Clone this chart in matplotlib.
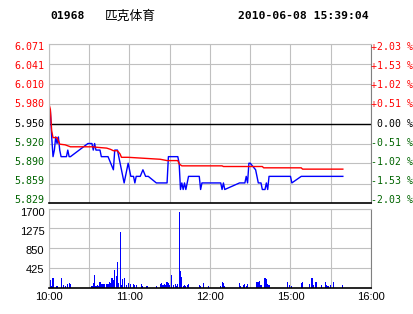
import matplotlib
matplotlib.use("Agg")
import matplotlib.pyplot as plt

plt.rcParams['font.family'] = ['DejaVu Sans', 'Noto Sans CJK SC']

# header
code = "01968"
name = "匹克体育"
stamp = "2010-06-08 15:39:04"
prev_close = 5.95

# axes labels
price_ticks = [5.829, 5.859, 5.890, 5.920, 5.950, 5.980, 6.010, 6.041, 6.071]
pct_labels = ["-2.03 %", "-1.53 %", "-1.02 %", "-0.51 %", " 0.00 %",
              "+0.51 %", "+1.02 %", "+1.53 %", "+2.03 %"]
vol_ticks = [425, 850, 1275, 1700]
time_labels = ["10:00", "", "11:00", "", "12:00", "", "15:00", "", "16:00"]

# minutes of trading time since 10:00 (12:30 -> 150 = 14:30)
price_t = [1, 2, 3, 4, 5, 6, 7, 8, 9, 13, 14, 15, 16, 29, 32, 33, 34, 35, 38, 39,
           44, 46, 48, 49, 51, 52, 53, 54, 56, 57, 59, 60, 61, 63, 64, 65, 68, 70,
           72, 74, 80, 88, 89, 96, 97, 98, 99, 100, 101, 102, 103, 104, 112, 113,
           114, 128, 129, 130, 131, 142, 146, 147, 148, 149, 150, 154, 155, 156,
           158, 159, 161, 162, 163, 164, 180, 181, 188, 219]
price = [5.97, 5.93, 5.90, 5.91, 5.93, 5.92, 5.93, 5.91, 5.90, 5.90, 5.91, 5.90,
         5.90, 5.92, 5.92, 5.91, 5.92, 5.91, 5.91, 5.90,
         5.90, 5.89, 5.88, 5.91, 5.91, 5.90, 5.89, 5.88, 5.86, 5.87, 5.89, 5.88,
         5.87, 5.87, 5.86, 5.87, 5.87, 5.88,
         5.87, 5.87, 5.86, 5.86, 5.90, 5.90, 5.89, 5.85, 5.86, 5.85, 5.86, 5.85,
         5.86, 5.87, 5.87, 5.85,
         5.86, 5.86, 5.85, 5.86, 5.85, 5.86, 5.86, 5.87, 5.86, 5.89, 5.89, 5.88,
         5.87, 5.86,
         5.86, 5.85, 5.85, 5.86, 5.85, 5.87, 5.87, 5.86, 5.87, 5.87]

avg_t = [0, 1, 2, 3, 6, 7, 8, 12, 16, 32, 37, 43, 46, 48, 51, 53, 54, 59, 83, 88,
         96, 97, 99, 129, 130, 159, 160, 188, 189, 219]
avg_p = [5.980, 5.972, 5.939, 5.929, 5.929, 5.924, 5.919, 5.918, 5.915, 5.915,
         5.914, 5.913, 5.911, 5.909, 5.909, 5.904, 5.899, 5.899, 5.896, 5.894,
         5.894, 5.889, 5.886, 5.886, 5.885, 5.885, 5.883, 5.883, 5.881, 5.881]

vol_t = [0, 1, 2, 3, 6, 9, 11, 12, 14, 15, 16,
         32, 33, 34, 35, 36, 37, 38, 39, 40, 41, 43, 44, 45, 46, 47, 48, 49, 50,
         51, 52, 53, 54, 55, 56,
         58, 59, 61, 63, 64, 65, 69, 70, 73, 80, 83, 84, 85, 86, 87, 88, 89, 90,
         91, 93, 94, 95, 96, 97, 98, 99, 100, 101, 102, 103, 104, 112, 113, 115,
         119,
         128, 129, 130, 131, 142, 143, 145, 146, 147, 148,
         155, 156, 157, 158, 161, 162, 163, 164, 178, 179, 181, 188, 189, 194,
         196, 197, 199, 203, 206, 207, 208, 210, 212, 219]
vol = [72, 179, 57, 230, 50, 230, 72, 50, 93, 108, 93,
       50, 122, 280, 50, 72, 50, 143, 93, 93, 86, 86, 93, 143, 108, 230, 179, 394,
       265, 552, 122, 1204, 72, 200, 222,
       72, 122, 93, 93, 72, 72, 93, 50, 50, 50, 86, 122, 72, 93, 72, 143, 108, 72,
       287, 72, 93, 50, 93, 1620, 370, 240, 50, 72, 50, 72, 93, 72, 50, 108,
       50,
       57, 143, 108, 50, 108, 50, 72, 93, 57, 86,
       143, 130, 158, 72, 215, 193, 93, 72, 143, 72, 50, 108, 143, 93,
       230, 60, 143, 72, 143, 60, 50, 72, 143, 72]

W, H = 414, 314
fig = plt.figure(figsize=(W / 100, H / 100), dpi=100)


def box(l, t, r, b):
    return [l / W, 1 - b / H, (r - l) / W, (b - t) / H]


def px(x, y):
    return x / W, 1 - y / H


grid_col = '#c0c0c0'
mono = 'DejaVu Sans Mono'
up, down = '#ff0000', '#006400'


def tone(v):
    if abs(v - prev_close) < 1e-6:
        return 'black'
    return up if v > prev_close else down


# ---- price panel ----
ax = fig.add_axes(box(49, 44.3, 371, 203.3))
ax.set_xlim(0, 240)
ax.set_ylim(price_ticks[0], price_ticks[-1])
ax.set_xticks(range(0, 241, 30))
ax.set_xticklabels([])
ax.set_yticks(price_ticks)
ax.set_yticklabels([])
ax.tick_params(length=0)
ax.grid(color=grid_col, lw=0.8)
ax.axhline(prev_close, color='black', lw=1.0)
for s in ['left', 'top']:
    ax.spines[s].set_color(grid_col)
    ax.spines[s].set_linewidth(0.8)
ax.spines['right'].set_color('#808080')
ax.spines['right'].set_linewidth(0.8)
ax.spines['bottom'].set_color('black')
ax.spines['bottom'].set_linewidth(1.2)

ax.plot(price_t, price, color='#0000ff', lw=1.0)
ax.plot(avg_t, avg_p, color='#ff0000', lw=1.0)

# side labels sit slightly inside the tick span, as on the original
n = len(price_ticks)
for i, v in enumerate(price_ticks):
    y = 200 - i * (200 - 47) / (n - 1)
    c = tone(v)
    fig.text(*px(44.5, y), f"{v:.3f}", fontfamily=mono, fontsize=7.2,
             color=c, ha='right', va='center')
    fig.text(*px(371.5, y), pct_labels[i], fontfamily=mono, fontsize=7.1,
             color=c, ha='left', va='center')

# ---- volume panel ----
axv = fig.add_axes(box(49, 208.5, 371, 288.3))
axv.set_xlim(0, 240)
axv.set_ylim(0, 1700)
axv.bar(vol_t, vol, width=0.85, color='#0000ff', linewidth=0, antialiased=False)
axv.set_xticks(range(0, 241, 30))
axv.set_xticklabels(time_labels, fontfamily='Liberation Sans', fontsize=8)
axv.set_yticks(vol_ticks)
axv.set_yticklabels([])
axv.tick_params(length=0)
axv.tick_params(axis='x', pad=3)
axv.grid(color=grid_col, lw=0.8)
axv.set_axisbelow(True)
for s in ['left', 'top']:
    axv.spines[s].set_color(grid_col)
    axv.spines[s].set_linewidth(0.8)
axv.spines['right'].set_color('#808080')
axv.spines['right'].set_linewidth(0.8)
axv.spines['bottom'].set_color('black')
axv.spines['bottom'].set_linewidth(1.2)

for i, v in enumerate(vol_ticks):
    y = 270 - i * (270 - 213) / (len(vol_ticks) - 1)
    fig.text(*px(44.5, y), str(v), fontfamily='Liberation Sans', fontsize=8,
             ha='right', va='center')

# ---- header ----
fig.text(*px(50, 16), code, fontfamily=mono, fontweight='bold', fontsize=8.2, va='center')
fig.text(*px(105, 16), name, fontfamily='Noto Sans CJK SC', fontsize=9.2, va='center')
fig.text(*px(238, 16), stamp, fontfamily=mono, fontweight='bold', fontsize=8.2, va='center')

fig.savefig('out.png', dpi=100)
